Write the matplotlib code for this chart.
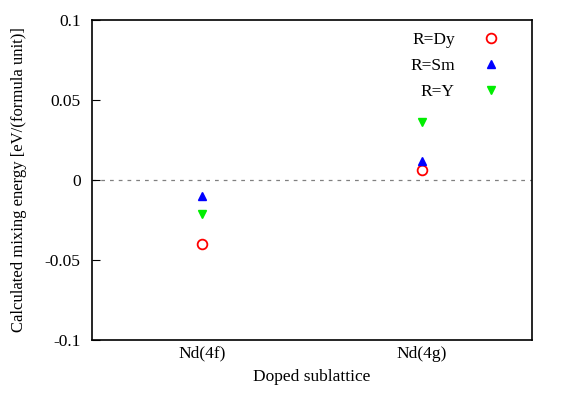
import numpy as np
import matplotlib.pyplot as plt

plt.rcParams['font.family'] = ['Liberation Serif', 'DejaVu Serif']
plt.rcParams['font.size'] = 12.5

sites = ['Nd(4f)', 'Nd(4g)']
e_dy = [-0.040, 0.006]
e_sm = [-0.010, 0.012]
e_y = [-0.021, 0.036]

x = np.arange(1, len(sites) + 1)

fig = plt.figure(figsize=(5.63, 3.94), dpi=100)
ax = fig.add_axes([0.163, 0.137, 0.782, 0.812])

ax.axhline(0, color='grey', ls=(0, (3, 4)), lw=0.9, zorder=1)
ax.plot(x, e_dy, 'o', ls='none', mfc='none', mec='red', mew=1.3, ms=7, label='R=Dy')
ax.plot(x, e_sm, '^', ls='none', color='blue', ms=5.5, label='R=Sm')
ax.plot(x, e_y, 'v', ls='none', color='#00ee00', ms=5.5, label='R=Y')

ax.set_xlim(0.5, 2.5)
ax.set_ylim(-0.1, 0.1)
ax.set_xticks(x)
ax.set_xticklabels(sites)
ax.set_yticks([-0.1, -0.05, 0, 0.05, 0.1])
ax.set_yticklabels(['-0.1', '-0.05', '0', '0.05', '0.1'])
ax.tick_params(axis='y', direction='in', length=6, width=0.8, pad=8)
ax.tick_params(axis='x', length=0, pad=4)
for s in ax.spines.values():
    s.set_linewidth(1.2)

ax.set_xlabel('Doped sublattice', labelpad=5)
ax.set_ylabel('Calculated mixing energy [eV/(formula unit)]', labelpad=13,
              fontsize=12)

ax.legend(loc='upper right', frameon=False, markerfirst=False,
          handletextpad=1.6, labelspacing=0.55, borderaxespad=0.3,
          handlelength=1.0, bbox_to_anchor=(0.955, 1.0))

fig.savefig('out.png', dpi=100)
